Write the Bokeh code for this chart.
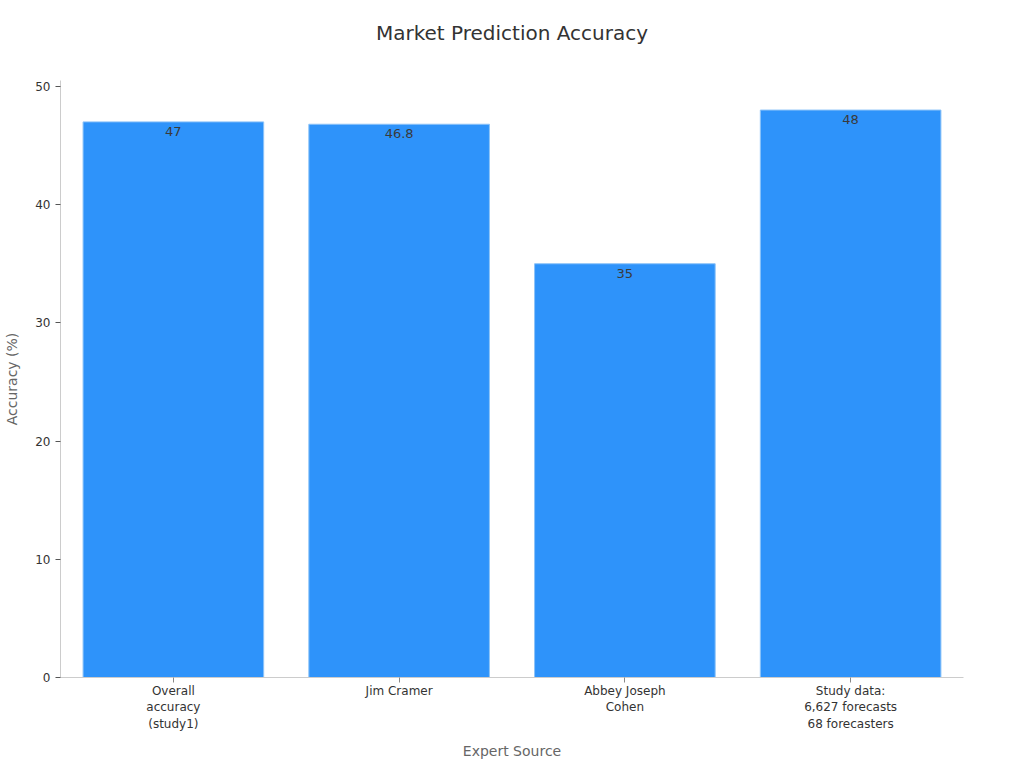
from bokeh.plotting import figure
from bokeh.models import ColumnDataSource, Range1d, LabelSet
from bokeh.core.properties import value
from bokeh.embed import file_html
from bokeh.resources import INLINE

# data
sources = ["Overall\naccuracy\n(study1)", "Jim Cramer", "Abbey Joseph\nCohen",
           "Study data:\n6,627 forecasts\n68 forecasters"]
accuracy = [47, 46.8, 35, 48]
value_text = ["47", "46.8", "35", "48"]

src = ColumnDataSource(data=dict(x=sources, top=accuracy, lab=value_text))

FONT = "DejaVu Sans"

p = figure(x_range=sources, y_range=Range1d(0, 50.5), width=1008, height=762,
           output_backend="svg", toolbar_location=None,
           min_border_left=60, min_border_right=45, min_border_top=80, min_border_bottom=85)

# the empty second line lifts the title away from the plot frame
p.title.text = "Market Prediction Accuracy\n "
p.title.align = "center"
p.title.text_font = FONT
p.title.text_font_size = "20px"
p.title.text_font_style = "normal"
p.title.text_color = "#333333"
p.title.standoff = 24

p.vbar(x="x", top="top", width=0.8, source=src, fill_color="#2E93FA",
       line_color="#8cc3f8", line_width=1)

labels = LabelSet(x="x", y="top", text="lab", source=src, text_align="center",
                  text_baseline="top", y_offset=-5, text_font=value(FONT),
                  text_font_size=value("13px"), text_color="#3a3a3a")
p.add_layout(labels)

p.outline_line_color = None
p.xgrid.grid_line_color = None
p.ygrid.grid_line_color = None

for ax in (p.xaxis, p.yaxis):
    ax.axis_line_color = "#cccccc"
    ax.major_tick_line_color = "#555555"
    ax.minor_tick_line_color = None
    ax.major_tick_in = 0
    ax.major_tick_out = 5
    ax.major_label_text_font = FONT
    ax.major_label_text_font_size = "12px"
    ax.major_label_text_color = "#333333"
    ax.axis_label_text_font = FONT
    ax.axis_label_text_font_size = "14px"
    ax.axis_label_text_font_style = "normal"
    ax.axis_label_text_color = "#666666"

p.xaxis.axis_label = "Expert Source"
p.xaxis.major_label_standoff = 1
p.xaxis.axis_label_standoff = 9
p.xaxis.major_tick_line_color = "#888888"
p.yaxis.axis_label = "Accuracy (%)"
p.yaxis.axis_label_standoff = 12
p.yaxis.ticker = [0, 10, 20, 30, 40, 50]
p.x_range.range_padding = 0

open("out.html", "w").write(file_html(p, INLINE))
